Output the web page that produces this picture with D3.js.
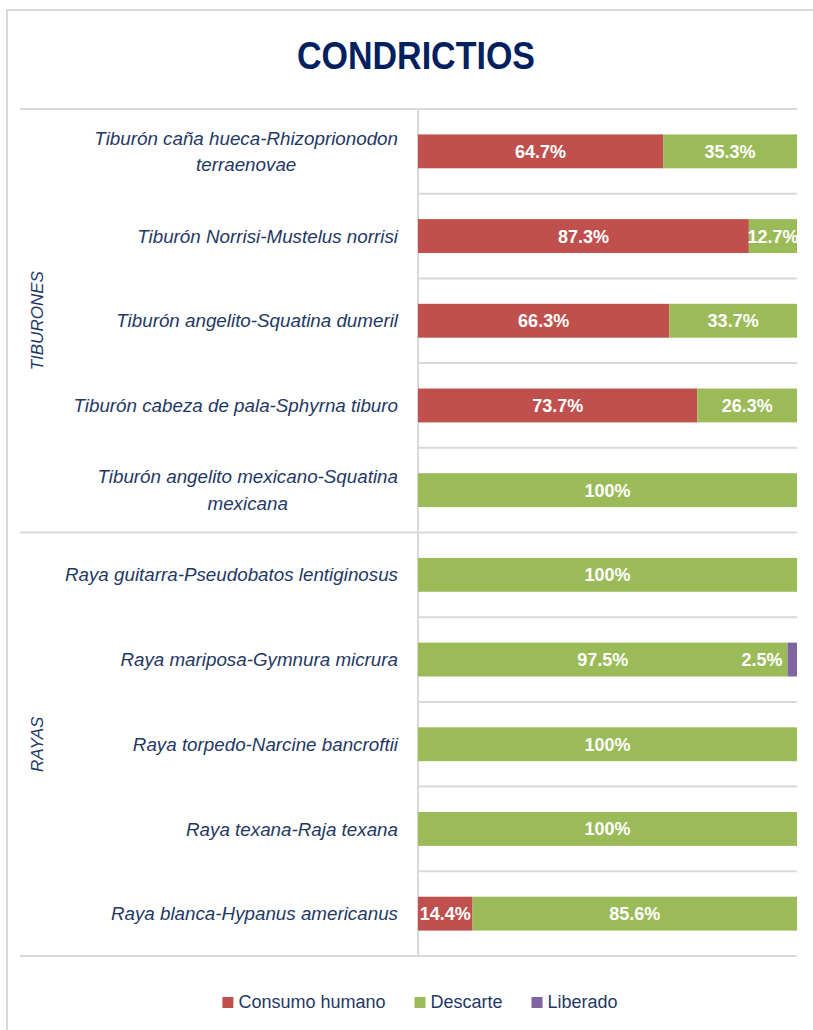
<!DOCTYPE html>
<html>
<head>
<meta charset="utf-8">
<script src="https://cdn.jsdelivr.net/npm/d3@7"></script>
<style>
  body { margin: 0; background: #fff; }
  svg { display: block; font-family: "Liberation Sans", Arial, sans-serif; }
</style>
</head>
<body>
<div id="chart"></div>
<script>
// DATA
let categories = [
  "Tiburón caña hueca-Rhizoprionodon terraenovae",
  "Tiburón Norrisi-Mustelus norrisi",
  "Tiburón angelito-Squatina dumeril",
  "Tiburón cabeza de pala-Sphyrna tiburo",
  "Tiburón angelito mexicano-Squatina mexicana",
  "Raya guitarra-Pseudobatos lentiginosus",
  "Raya mariposa-Gymnura micrura",
  "Raya torpedo-Narcine bancroftii",
  "Raya texana-Raja texana",
  "Raya blanca-Hypanus americanus"
]
let consumo  = [64.7, 87.3, 66.3, 73.7, 0, 0, 0, 0, 0, 14.4]
let descarte = [35.3, 12.7, 33.7, 26.3, 100, 100, 97.5, 100, 100, 85.6]
let liberado = [0, 0, 0, 0, 0, 0, 2.5, 0, 0, 0]
let groups = [
  {name: "TIBURONES", first: 0, last: 4},
  {name: "RAYAS", first: 5, last: 9}
]
let seriesNames = ["Consumo humano", "Descarte", "Liberado"]
let colors = ["#c0504d", "#9bbb59", "#8064a2"]

let W = 813, H = 1030
let plotLeft = 418, plotRight = 797, plotTop = 109, plotBottom = 956
let gridColor = "#d9d9d9"
let navy = "#1f3864"

let svg = d3.select("#chart").append("svg")
  .attr("width", W).attr("height", H)

// outer frame
svg.append("rect")
  .attr("x", 7).attr("y", 10)
  .attr("width", W + 10).attr("height", H + 10)
  .attr("fill", "none").attr("stroke", gridColor).attr("stroke-width", 2)

// title (condensed like Calibri)
svg.append("text")
  .attr("x", 416).attr("y", 69)
  .attr("text-anchor", "middle")
  .attr("textLength", 238).attr("lengthAdjust", "spacingAndGlyphs")
  .style("font-weight", "bold").style("font-size", "38px")
  .attr("fill", "#002060")
  .text("CONDRICTIOS")

// SCALES
let xScale = d3.scaleLinear().domain([0, 100]).range([plotLeft, plotRight])
let yScale = d3.scaleBand().domain(categories)
  .range([plotTop, plotBottom])
  .paddingInner(0.6).paddingOuter(0.3)
let step = yScale.step()

// inner gridlines (band boundaries)
let boundaries = d3.range(1, categories.length)
  .filter(i => i !== groups[1].first)
svg.append("g").selectAll("line")
  .data(boundaries)
  .join("line")
  .attr("x1", plotLeft).attr("x2", plotRight)
  .attr("y1", i => plotTop + i * step)
  .attr("y2", i => plotTop + i * step)
  .attr("stroke", gridColor).attr("stroke-width", 2)

// long lines (top, group separator, bottom)
let longLines = [0, groups[1].first, categories.length]
svg.append("g").selectAll("line")
  .data(longLines)
  .join("line")
  .attr("x1", 20).attr("x2", plotRight)
  .attr("y1", i => plotTop + i * step)
  .attr("y2", i => plotTop + i * step)
  .attr("stroke", gridColor).attr("stroke-width", 2)

// vertical axis line
svg.append("line")
  .attr("x1", plotLeft).attr("x2", plotLeft)
  .attr("y1", plotTop).attr("y2", plotBottom)
  .attr("stroke", gridColor).attr("stroke-width", 2)

// STACK
let rows = categories.map((c, i) => ({cat: c, s0: consumo[i], s1: descarte[i], s2: liberado[i]}))
let stack = d3.stack().keys(["s0", "s1", "s2"])(rows)

let layers = svg.append("g").selectAll("g")
  .data(stack)
  .join("g")
  .attr("fill", (d, i) => colors[i])

layers.selectAll("rect")
  .data(d => d)
  .join("rect")
  .attr("x", d => xScale(d[0]))
  .attr("width", d => xScale(d[1]) - xScale(d[0]))
  .attr("y", d => yScale(d.data.cat))
  .attr("height", yScale.bandwidth())

// data labels
let labelData = []
stack.forEach((layer, si) => {
  layer.forEach(d => {
    let v = d[1] - d[0]
    if (v > 0) labelData.push({si: si, v: v, x0: d[0], x1: d[1], cat: d.data.cat})
  })
})
svg.append("g").selectAll("text")
  .data(labelData)
  .join("text")
  .attr("x", d => d.si === 2 ? xScale(d.x0) - 5 : xScale((d.x0 + d.x1) / 2))
  .attr("y", d => yScale(d.cat) + yScale.bandwidth() / 2)
  .attr("dy", "0.36em")
  .attr("text-anchor", d => d.si === 2 ? "end" : "middle")
  .attr("fill", "#fff")
  .style("font-weight", "bold").style("font-size", "18px")
  .text(d => d.v === 100 ? "100%" : d3.format(".1f")(d.v) + "%")

// category labels, wrapped and centred like Excel
let labelRight = plotLeft - 20, maxW = 340, lineH = 26.5
let catLabels = svg.append("g")
  .style("font-style", "italic").style("font-size", "18.8px")
  .attr("fill", navy)

categories.forEach(c => {
  let t = catLabels.append("text")
  let words = c.split(" ")
  let lines = [], cur = []
  words.forEach(w => {
    t.text(cur.concat([w]).join(" "))
    if (t.node().getComputedTextLength() > maxW && cur.length) {
      lines.push(cur.join(" "))
      cur = [w]
    } else {
      cur.push(w)
    }
  })
  lines.push(cur.join(" "))
  t.text(null)
  let widths = lines.map(l => { t.text(l); return t.node().getComputedTextLength() })
  t.text(null)
  let cx = labelRight - d3.max(widths) / 2
  let cy = yScale(c) + yScale.bandwidth() / 2
  lines.forEach((l, k) => {
    t.append("tspan")
      .attr("x", cx)
      .attr("y", cy + (k - (lines.length - 1) / 2) * lineH)
      .attr("dy", "0.35em")
      .attr("text-anchor", "middle")
      .text(l)
  })
})

// group labels
svg.append("g").selectAll("text")
  .data(groups)
  .join("text")
  .attr("transform", g => {
    let cy = (plotTop + g.first * step + plotTop + (g.last + 1) * step) / 2
    return "translate(37," + cy + ") rotate(-90)"
  })
  .attr("text-anchor", "middle")
  .attr("dy", "0.35em")
  .style("font-style", "italic").style("font-size", "17px")
  .attr("fill", navy)
  .text(g => g.name)

// LEGEND
let legend = svg.append("g").style("font-size", "18px").attr("fill", navy)
let lx = 0
seriesNames.forEach((n, i) => {
  let g = legend.append("g")
  g.append("rect").attr("x", 0).attr("y", -11).attr("width", 11).attr("height", 11)
    .attr("fill", colors[i])
  let t = g.append("text").attr("x", 16).attr("y", 0).attr("fill", navy).text(n)
  let w = 16 + t.node().getComputedTextLength()
  g.attr("transform", "translate(" + lx + ",0)")
  lx += w + 29
})
let totalW = lx - 29
legend.attr("transform", "translate(" + (420 - totalW / 2) + ",1008)")
</script>
</body>
</html>
